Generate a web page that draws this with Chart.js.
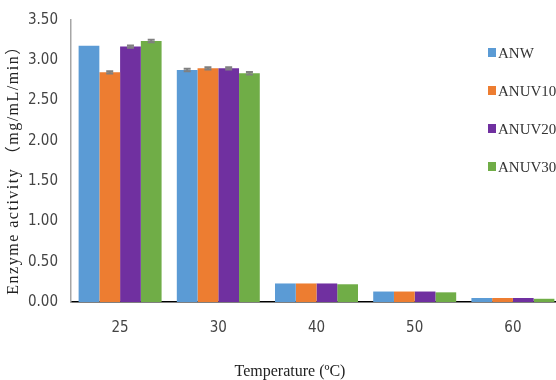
<!DOCTYPE html>
<html>
<head>
<meta charset="utf-8">
<script src="https://cdn.jsdelivr.net/npm/chart.js@4.4.1/dist/chart.umd.min.js"></script>
<style>
  html, body { margin: 0; padding: 0; background: #fff; overflow: hidden; width: 556px; height: 380px; }
  #wrap { width: 566px; height: 380px; }
</style>
</head>
<body>
<div id="wrap"><canvas id="c" width="566" height="380"></canvas></div>
<script>
// Enzyme activity (mg/mL/min) at each temperature
const temperatures = ['25', '30', '40', '50', '60'];
const seriesNames = ['ANW', 'ANUV10', 'ANUV20', 'ANUV30'];
const anw    = [3.18, 2.88, 0.23, 0.13, 0.05];
const anuv10 = [2.85, 2.90, 0.23, 0.13, 0.05];
const anuv20 = [3.17, 2.90, 0.23, 0.13, 0.05];
const anuv30 = [3.24, 2.84, 0.22, 0.12, 0.04];
// standard deviations
const anwErr    = [0, 0.015, 0, 0, 0];
const anuv10Err = [0.015, 0.015, 0, 0, 0];
const anuv20Err = [0.015, 0.015, 0, 0, 0];
const anuv30Err = [0.015, 0.015, 0, 0, 0];
const yTickValues = [0, 0.5, 1.0, 1.5, 2.0, 2.5, 3.0, 3.5];
const xTitle = 'Temperature (ºC)';
const yTitle = 'Enzyme activity （mg/mL/min）';

const colors = ['#5b9bd5', '#ed7d31', '#7030a0', '#70ad47'];
const values = [anw, anuv10, anuv20, anuv30];
const errors = [anwErr, anuv10Err, anuv20Err, anuv30Err];

const tickFont = { family: "'DejaVu Sans Condensed', 'Liberation Sans Narrow', 'Liberation Sans', sans-serif", size: 15 };
const serif = "'Liberation Serif', 'Noto Sans CJK JP', serif";

// error bars drawn through the value scale
const errorBars = {
  id: 'errorBars',
  afterDatasetsDraw(chart) {
    const ctx = chart.ctx;
    const yScale = chart.scales.y;
    ctx.save();
    ctx.strokeStyle = '#808080';
    ctx.lineWidth = 2;
    chart.data.datasets.forEach((ds, di) => {
      const meta = chart.getDatasetMeta(di);
      meta.data.forEach((bar, i) => {
        const e = ds.errors[i];
        if (!e) return;
        const top = yScale.getPixelForValue(ds.data[i] + e);
        const bot = yScale.getPixelForValue(ds.data[i] - e);
        const x = bar.x;
        ctx.beginPath();
        ctx.moveTo(x, top); ctx.lineTo(x, bot);
        ctx.moveTo(x - 3.5, top); ctx.lineTo(x + 3.5, top);
        ctx.moveTo(x - 3.5, bot); ctx.lineTo(x + 3.5, bot);
        ctx.stroke();
      });
    });
    ctx.restore();
  }
};

// axis titles and the legend column
const decorations = {
  id: 'decorations',
  afterDraw(chart) {
    const ctx = chart.ctx;
    ctx.save();
    ctx.fillStyle = '#222';
    ctx.textBaseline = 'middle';

    // x axis title
    ctx.font = '16px ' + serif;
    ctx.textAlign = 'center';
    ctx.fillText(xTitle, 290, 372);

    // y axis title
    ctx.save();
    ctx.translate(14, 166);
    ctx.rotate(-Math.PI / 2);
    ctx.font = '16px ' + serif;
    ctx.letterSpacing = '1.5px';
    ctx.fillText(yTitle, 0, 0);
    ctx.restore();

    // legend
    ctx.font = '15px ' + serif;
    ctx.textAlign = 'left';
    chart.data.datasets.forEach((ds, i) => {
      const cy = 53 + i * 38;
      ctx.fillStyle = ds.backgroundColor;
      ctx.fillRect(488, cy - 5, 8, 9);
      ctx.fillStyle = '#333';
      ctx.fillText(ds.label, 498, cy + 1);
    });
    ctx.restore();
  }
};

new Chart(document.getElementById('c'), {
  type: 'bar',
  data: {
    labels: temperatures,
    datasets: seriesNames.map((name, i) => ({
      label: name,
      data: values[i],
      errors: errors[i],
      backgroundColor: colors[i],
      borderWidth: 0,
      barPercentage: 1.0,
      categoryPercentage: 0.845
    }))
  },
  options: {
    responsive: false,
    devicePixelRatio: 1,
    animation: false,
    layout: { padding: { top: 20, right: 4, left: 0, bottom: 0 } },
    plugins: { legend: { display: false }, tooltip: { enabled: false } },
    scales: {
      x: {
        grid: { display: false },
        border: { display: true, color: '#000', width: 1.5 },
        ticks: { font: tickFont, color: '#444', padding: 9 },
        afterFit(scale) { scale.height = 78; }
      },
      y: {
        min: 0,
        max: 3.5,
        afterBuildTicks(scale) { scale.ticks = yTickValues.map(v => ({ value: v })); },
        grid: { display: false },
        border: { display: true, color: '#a6a6a6', width: 1.5 },
        ticks: { font: tickFont, color: '#444', padding: 5, callback: v => Number(v).toFixed(2) },
        afterFit(scale) { scale.width = 71; }
      }
    }
  },
  plugins: [errorBars, decorations]
});
</script>
</body>
</html>
